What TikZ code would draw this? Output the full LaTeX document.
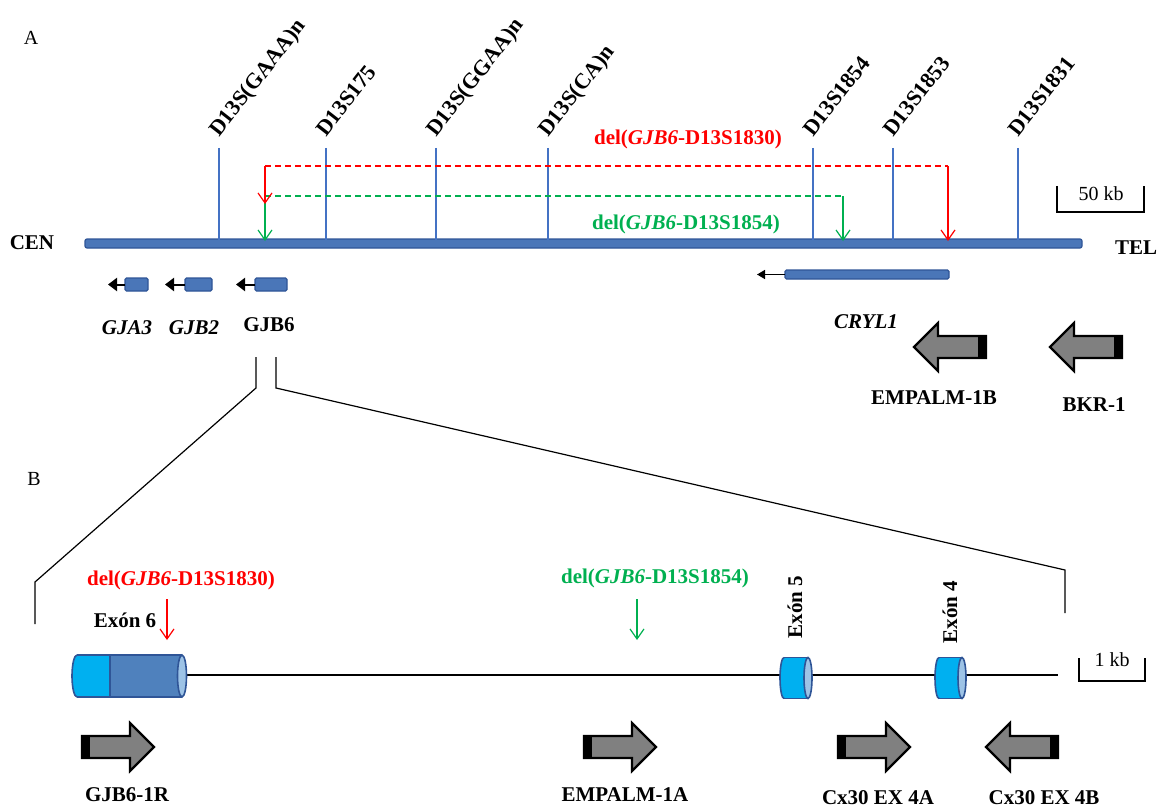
\documentclass[tikz,border=0pt]{standalone}
\usepackage{fontspec}
\setmainfont{Liberation Serif}
\usetikzlibrary{arrows.meta}
\definecolor{barblue}{HTML}{4A76B8}
\definecolor{bardark}{HTML}{2F5597}
\definecolor{mkblue}{HTML}{4472C4}
\definecolor{delred}{HTML}{FF0000}
\definecolor{delgreen}{HTML}{00B050}
\definecolor{exlight}{HTML}{00B0F0}
\definecolor{exdark}{HTML}{4F81BD}
\definecolor{excap}{HTML}{9DC3E6}
\definecolor{arrgray}{HTML}{808080}
\newcommand\labfont{\fontsize{21}{25}\selectfont\bfseries}
\newcommand\mkfont{\fontsize{22}{26}\selectfont\bfseries}
\newcommand\regfont{\fontsize{20}{24}\selectfont}
\tikzset{
  lab/.style={inner sep=0pt, font=\labfont},
  reg/.style={inner sep=0pt, font=\regfont},
  mk/.style={inner sep=0pt, font=\mkfont, rotate=52, anchor=base west},
  mkline/.style={mkblue, line width=1.1pt},
  chrom/.style={draw=bardark, fill=barblue, line width=1.2pt, rounded corners=2pt},
  delline/.style={dashed, dash pattern=on 6pt off 4pt, line width=1.3pt},
  delarrow/.style={line width=1.2pt, -{Straight Barb[length=10pt,width=14pt]}},
  genearrow/.style={line width=2pt, -{Triangle[length=9pt,width=13pt]}},
  thin/.style={black, line width=1.2pt},
  exborder/.style={draw=bardark, line width=1.6pt},
  blockarr/.pic={
    \draw[line width=2.2pt, fill=arrgray, line join=miter] (0,-11) -- (48,-11) -- (48,-24) -- (72,0) -- (48,24) -- (48,11) -- (0,11) -- cycle;
    \fill[black] (-1,-12) rectangle (8,12);
  }
}
\begin{document}
\begin{tikzpicture}[x=1pt,y=-1pt]
\useasboundingbox (0,0) rectangle (1159,805);

% ---------- Part A ----------
\node[reg] (A) at (31,38) {A};
\node[lab] (cen) at (32,243) {CEN};
\node[lab] (tel) at (1136,248) {TEL};
\draw[chrom] (85,239) rectangle (1082,248);
\coordinate (chromL) at (85,243);
\coordinate (chromR) at (1082,243);

% markers
\foreach \x/\t/\n in {219/D13S(GAAA)n/m1, 326/D13S175/m2, 436/D13S(GGAA)n/m3, 548/D13S(CA)n/m4, 813/D13S1854/m5, 893/D13S1853/m6, 1018/D13S1831/m7}{
  \coordinate (\n top) at (\x,148);
  \coordinate (\n bot) at (\x,240);
  \draw[mkline] (\n top) -- (\n bot);
  \node[mk] (\n) at (\x,138) {\t};
}

% deletions
\coordinate (r1) at (265,166);
\coordinate (r2) at (948,166);
\coordinate (r1e) at (265,204);
\coordinate (r2e) at (948,241);
\coordinate (g1) at (265,196);
\coordinate (g2) at (843,196);
\coordinate (g1e) at (265,241);
\coordinate (g2e) at (843,241);
\draw[delline, delgreen] (g1) -- (g2);
\draw[delarrow, delgreen] (g1) -- (g1e);
\draw[delarrow, delgreen] (g2) -- (g2e);
\draw[delline, delred] (r1) -- (r2);
\draw[delarrow, delred] (r1) -- (r1e);
\draw[delarrow, delred] (r2) -- (r2e);
\node[lab, text=delred] (del1) at (688,139) {del(\textit{GJB6}-D13S1830)};
\node[lab, text=delgreen] (del2) at (686,224) {del(\textit{GJB6}-D13S1854)};

% 50 kb scale
\coordinate (s1) at (1057,186);
\coordinate (s2) at (1057,212);
\coordinate (s3) at (1144,212);
\coordinate (s4) at (1144,186);
\draw[thin] (s1) -- (s2) -- (s3) -- (s4);
\node[reg] (kb50) at (1101,194) {50 kb};

% small genes
\draw[chrom, rounded corners=1.5pt] (125,278) rectangle (148,291);
\draw[chrom, rounded corners=1.5pt] (185,278) rectangle (212,291);
\draw[chrom, rounded corners=1.5pt] (255,278) rectangle (287,291);
\coordinate (ga) at (125,284.5);
\coordinate (gat) at (108,284.5);
\coordinate (gb) at (185,284.5);
\coordinate (gbt) at (165,284.5);
\coordinate (gc) at (255,284.5);
\coordinate (gct) at (236,284.5);
\draw[genearrow] (ga) -- (gat);
\draw[genearrow] (gb) -- (gbt);
\draw[genearrow] (gc) -- (gct);
\node[lab] (gja3) at (127,328) {\textit{GJA3}};
\node[lab] (gjb2) at (194,328) {\textit{GJB2}};
\node[lab] (gjb6) at (269,325) {GJB6};

% CRYL1
\draw[chrom, rounded corners=1.5pt] (785,270) rectangle (949,279);
\coordinate (cr) at (785,274.5);
\coordinate (crt) at (757,274.5);
\draw[line width=1.5pt, -{Triangle[length=8pt,width=9pt]}] (cr) -- (crt);
\node[lab] (cryl1) at (866,322) {\textit{CRYL1}};

% primers A
\pic[xscale=-1] (pEB) at (986,347) {blockarr};
\pic[xscale=-1] (pBK) at (1122,347) {blockarr};
\node[lab] (empb) at (934,398) {EMPALM-1B};
\node[lab] (bkr) at (1094,405) {BKR-1};

% zoom lines
\coordinate (zl1) at (256,357);
\coordinate (zl2) at (256,388);
\coordinate (zl3) at (35,582);
\coordinate (zl4) at (35,624);
\coordinate (zr1) at (276,357);
\coordinate (zr2) at (276,388);
\coordinate (zr3) at (1065,570);
\coordinate (zr4) at (1065,613);
\draw[thin] (zl1) -- (zl2) -- (zl3) -- (zl4);
\draw[thin] (zr1) -- (zr2) -- (zr3) -- (zr4);

% ---------- Part B ----------
\node[reg] (B) at (34,479) {B};

\coordinate (lineL) at (185,675);
\coordinate (lineR) at (1058,675);
\draw[thin] (lineL) -- (lineR);

% Exon 6
\fill[exlight] (77,676) ellipse[x radius=5, y radius=21];
\fill[exlight] (77,655) rectangle (110,697);
\fill[exdark] (110,655) rectangle (182,697);
\draw[exborder] (77,655) arc[start angle=-90, end angle=-270, x radius=5, y radius=21];
\draw[exborder] (77,655) -- (182,655);
\draw[exborder] (77,697) -- (182,697);
\draw[draw=bardark, line width=1.3pt] (110,655) -- (110,697);
\draw[exborder, fill=excap] (182,676) ellipse[x radius=4.5, y radius=21];
\node[lab] (ex6) at (125,620) {Exón 6};

% Exons 5 and 4
\foreach \xa/\xb/\nm in {784/808/e5, 939/962/e4}{
  \fill[exlight] (\xa,678) ellipse[x radius=4, y radius=20.5];
  \fill[exlight] (\xa,657.5) rectangle (\xb,698.5);
  \draw[exborder] (\xa,657.5) arc[start angle=-90, end angle=-270, x radius=4, y radius=20.5];
  \draw[exborder] (\xa,657.5) -- (\xb,657.5);
  \draw[exborder] (\xa,698.5) -- (\xb,698.5);
  \draw[exborder, fill=excap] (\xb,678) ellipse[x radius=4, y radius=20.5];
}
\node[lab, rotate=90] (ex5) at (795,607) {Exón 5};
\node[lab, rotate=90] (ex4) at (950,612) {Exón 4};

% deletion marks B
\node[lab, text=delred] (del1b) at (181,580) {del(\textit{GJB6}-D13S1830)};
\node[lab, text=delgreen] (del2b) at (655,578) {del(\textit{GJB6}-D13S1854)};
\coordinate (rb1) at (167,599);
\coordinate (rb2) at (167,640);
\coordinate (gb1) at (637,599);
\coordinate (gb2) at (637,640);
\draw[delarrow, delred] (rb1) -- (rb2);
\draw[delarrow, delgreen] (gb1) -- (gb2);

% 1 kb
\coordinate (k1) at (1079,658);
\coordinate (k2) at (1079,681);
\coordinate (k3) at (1145,681);
\coordinate (k4) at (1145,658);
\draw[thin] (k1) -- (k2) -- (k3) -- (k4);
\node[reg] (kb1) at (1112,660) {1 kb};

% primers B
\pic (p1) at (82,747) {blockarr};
\pic (p2) at (584,747) {blockarr};
\pic (p3) at (838,747) {blockarr};
\pic[xscale=-1] (p4) at (1058,747) {blockarr};
\node[lab] (l1) at (127,795) {GJB6-1R};
\node[lab] (l2) at (625,795) {EMPALM-1A};
\node[lab] (l3) at (878,798) {Cx30 EX 4A};
\node[lab] (l4) at (1044,798) {Cx30 EX 4B};
\end{tikzpicture}
\end{document}
